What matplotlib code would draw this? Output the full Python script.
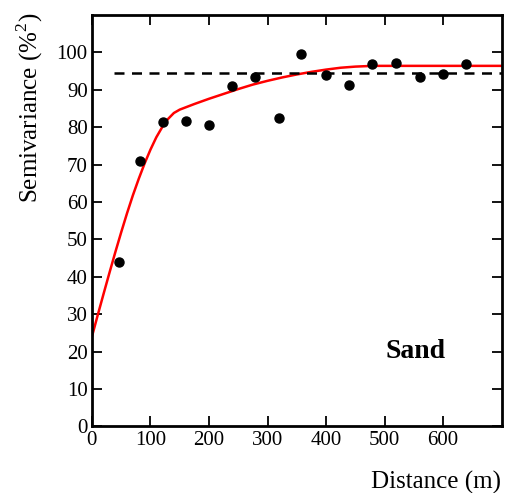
import matplotlib
matplotlib.use("Agg")
import matplotlib.pyplot as plt

plt.rcParams['font.family'] = ['Liberation Serif', 'DejaVu Serif']
plt.rcParams['mathtext.fontset'] = 'custom'
plt.rcParams['mathtext.rm'] = 'Liberation Serif'

# experimental semivariance (lag distance in m, semivariance in %^2)
lag_dist = [47, 82, 121, 160, 200, 239, 279, 320, 358, 399, 439, 479, 519, 560, 600, 639]
semivar = [44.0, 71.0, 81.5, 81.7, 80.6, 91.0, 93.5, 82.4, 99.5, 94.0, 91.4, 96.9, 97.2, 93.4, 94.1, 96.9]

# fitted model curve
model_x = [0, 10, 20, 30, 40, 50, 60, 70, 80, 90, 100, 110, 120, 130, 140, 150,
           175, 200, 225, 250, 275, 300, 325, 350, 375, 400, 425, 450, 480, 700]
model_y = [24.0, 29.8, 35.5, 41.1, 46.6, 51.9, 57.0, 61.8, 66.2, 70.3, 74.0, 77.3,
           80.0, 82.2, 83.8, 84.7, 86.2, 87.6, 88.9, 90.2, 91.4, 92.4, 93.3, 94.1,
           94.8, 95.4, 95.9, 96.2, 96.4, 96.4]

# sample variance
sill = 94.6

fig = plt.figure(figsize=(5.05, 4.93), dpi=100)
ax = fig.add_axes([0.182, 0.135, 0.8115, 0.8346])

ax.plot(model_x, model_y, color='red', lw=1.8, zorder=2)
ax.plot([37, 700], [sill, sill], color='black', lw=1.8, dashes=(4, 3), zorder=3)
ax.plot(lag_dist, semivar, 'o', color='black', ms=6.5, zorder=4)

ax.set_xlim(0, 700)
ax.set_ylim(0, 110)
ax.set_xticks(range(0, 700, 100))
ax.set_yticks(range(0, 101, 10))
ax.tick_params(direction='in', length=7, width=1.3, labelsize=15, pad=3,
               top=True, right=True)
for s in ax.spines.values():
    s.set_linewidth(2)

ax.text(553, 20, 'Sand', fontsize=20, fontweight='bold', ha='center', va='center')

fig.text(30 / 505, 1 - 108 / 493, r'Semivariance (%$^{\rm 2}$)', rotation=90,
         fontsize=18, ha='center', va='center')
fig.text(501 / 505, 1 - 482 / 493, 'Distance (m)', fontsize=18,
         ha='right', va='center')

fig.savefig('out.png', dpi=100)
